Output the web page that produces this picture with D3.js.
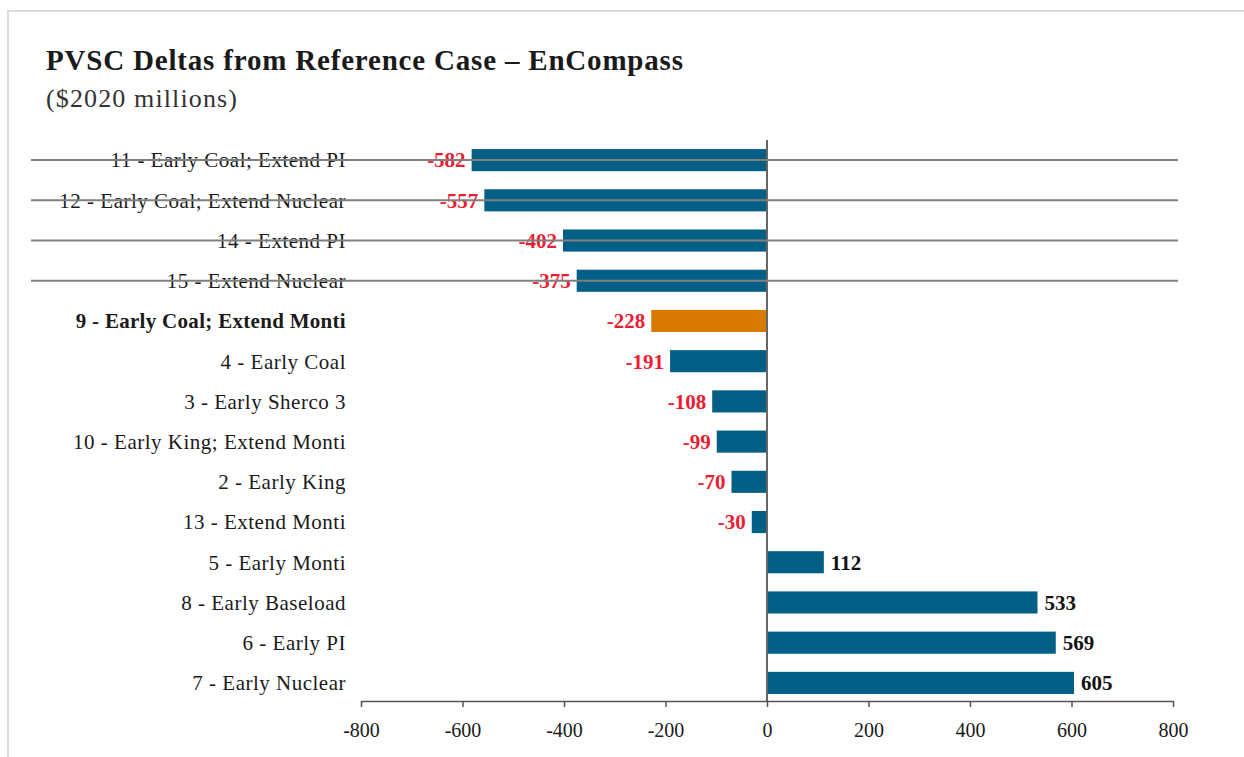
<!DOCTYPE html>
<html>
<head>
<meta charset="utf-8">
<script src="https://cdn.jsdelivr.net/npm/d3@7"></script>
<style>
  body { margin: 0; background: #fff; }
  text { font-family: "Liberation Serif", "DejaVu Serif", serif; }
</style>
</head>
<body>
<script>
// Data
var scenarios = [
    "11 - Early Coal; Extend PI",
    "12 - Early Coal; Extend Nuclear",
    "14 - Extend PI",
    "15 - Extend Nuclear",
    "9 - Early Coal; Extend Monti",
    "4 - Early Coal",
    "3 - Early Sherco 3",
    "10 - Early King; Extend Monti",
    "2 - Early King",
    "13 - Extend Monti",
    "5 - Early Monti",
    "8 - Early Baseload",
    "6 - Early PI",
    "7 - Early Nuclear"
];
var deltas = [-582, -557, -402, -375, -228, -191, -108, -99, -70, -30, 112, 533, 569, 605];
var struck = ["11 - Early Coal; Extend PI", "12 - Early Coal; Extend Nuclear", "14 - Extend PI", "15 - Extend Nuclear"];
var highlight = "9 - Early Coal; Extend Monti";
var xTicks = [-800, -600, -400, -200, 0, 200, 400, 600, 800];

function init() {
    var w = 1244;
    var h = 757;

    var rows = scenarios.map(function(s, i) { return { name: s, value: deltas[i] }; });

    var svg = d3.select("body")
        .append("svg")
        .attr("width", w)
        .attr("height", h);

    // frame (top and left edges)
    svg.append("rect").attr("x", 7).attr("y", 10).attr("width", 1240).attr("height", 2).attr("fill", "#dcdcdc");
    svg.append("rect").attr("x", 7).attr("y", 10).attr("width", 2).attr("height", 760).attr("fill", "#dcdcdc");

    // Title
    svg.append("text")
        .attr("x", 46).attr("y", 70)
        .attr("font-size", 29).attr("font-weight", "bold")
        .attr("fill", "#1a1a1a")
        .attr("textLength", 637).attr("lengthAdjust", "spacing")
        .text("PVSC Deltas from Reference Case \u2013 EnCompass");
    svg.append("text")
        .attr("x", 46).attr("y", 107)
        .attr("font-size", 26)
        .attr("fill", "#333")
        .attr("textLength", 191).attr("lengthAdjust", "spacing")
        .text("($2020 millions)");

    var x = d3.scaleLinear().domain([-800, 800]).range([361, 1173]);
    var y = d3.scaleBand().domain(scenarios).range([140, 703]).paddingInner(0.45).paddingOuter(0.225);

    // bars
    svg.selectAll("rect.bar")
        .data(rows)
        .enter()
        .append("rect")
        .attr("class", "bar")
        .attr("x", function(d) { return x(Math.min(0, d.value)); })
        .attr("y", function(d) { return y(d.name); })
        .attr("width", function(d) { return Math.abs(x(d.value) - x(0)); })
        .attr("height", y.bandwidth())
        .attr("fill", function(d) { return d.name == highlight ? "#d97a00" : "#035f86"; });

    // zero line
    svg.append("line")
        .attr("x1", x(0)).attr("x2", x(0))
        .attr("y1", 140).attr("y2", 701)
        .attr("stroke", "#666").attr("stroke-width", 2);

    // category labels
    svg.selectAll("text.cat")
        .data(rows)
        .enter()
        .append("text")
        .attr("class", "cat")
        .attr("x", 346)
        .attr("y", function(d) { return y(d.name) + y.bandwidth() / 2; })
        .attr("dy", "0.35em")
        .attr("text-anchor", "end")
        .attr("font-size", 21)
        .attr("letter-spacing", function(d) { return d.name == highlight ? 0.3 : 0.5; })
        .attr("font-weight", function(d) { return d.name == highlight ? "bold" : "normal"; })
        .attr("fill", "#1a1a1a")
        .text(function(d) { return d.name; });

    // value labels
    svg.selectAll("text.val")
        .data(rows)
        .enter()
        .append("text")
        .attr("class", "val")
        .attr("x", function(d) { return d.value < 0 ? x(d.value) - 6 : x(d.value) + 7; })
        .attr("y", function(d) { return y(d.name) + y.bandwidth() / 2; })
        .attr("dy", "0.35em")
        .attr("text-anchor", function(d) { return d.value < 0 ? "end" : "start"; })
        .attr("font-size", 21)
        .attr("font-weight", "bold")
        .attr("fill", function(d) { return d.value < 0 ? "#ee1c32" : "#111"; })
        .text(function(d) { return d.value; });

    // strike-through lines
    svg.selectAll("line.strike")
        .data(struck)
        .enter()
        .append("line")
        .attr("class", "strike")
        .attr("x1", 31).attr("x2", 1178)
        .attr("y1", function(d) { return y(d) + y.bandwidth() / 2; })
        .attr("y2", function(d) { return y(d) + y.bandwidth() / 2; })
        .attr("stroke", "#808080").attr("stroke-width", 2);

    // x axis
    var axis = d3.axisBottom(x).tickValues(xTicks).tickFormat(function(d) { return String(d); })
        .tickSize(6).tickSizeOuter(0);
    var g = svg.append("g")
        .attr("transform", "translate(0,701)")
        .call(axis);
    g.select(".domain").attr("stroke", "#555").attr("stroke-width", 1.5);
    g.selectAll(".tick line").attr("stroke", "#555").attr("stroke-width", 1.5);
    g.selectAll(".tick text")
        .attr("font-family", "Liberation Serif, serif")
        .attr("font-size", 20)
        .attr("fill", "#1a1a1a")
        .attr("y", 22);
}
window.onload = init;
</script>
</body>
</html>
